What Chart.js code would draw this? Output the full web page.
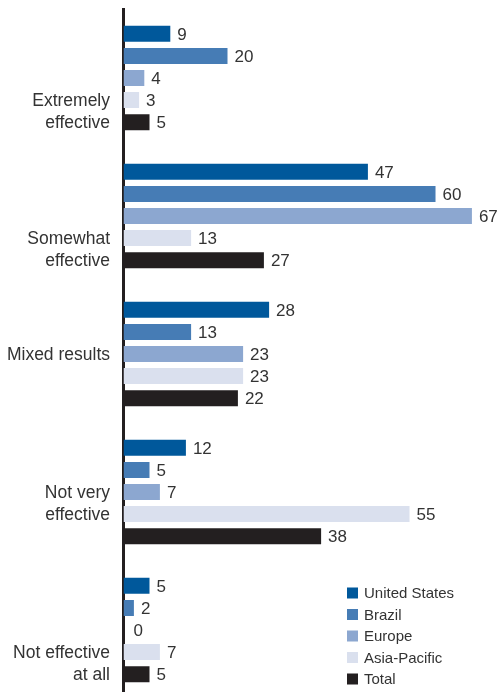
<!DOCTYPE html>
<html>
<head>
<meta charset="utf-8">
<script src="https://cdn.jsdelivr.net/npm/chart.js@4"></script>
<style>
  html, body { margin: 0; padding: 0; background: #fff; overflow: hidden; }
  #wrap { position: relative; width: 500px; height: 692px; overflow: hidden; }
  canvas { display: block; }
</style>
</head>
<body>
<div id="wrap"><canvas id="chart" width="500" height="699"></canvas></div>
<script>
// Survey answers, one group of bars per answer
const categories = [
  ["Extremely", "effective"],
  ["Somewhat", "effective"],
  ["Mixed results"],
  ["Not very", "effective"],
  ["Not effective", "at all"]
];
const seriesNames = ["United States", "Brazil", "Europe", "Asia-Pacific", "Total"];
const unitedStates = [9, 47, 28, 12, 5];
const brazil       = [20, 60, 13, 5, 2];
const europe       = [4, 67, 23, 7, 0];
const asiaPacific  = [3, 13, 23, 55, 7];
const total        = [5, 27, 22, 38, 5];

const seriesColors = ["#00589b", "#467cb5", "#8ca7d0", "#dae0ee", "#231f20"];
const TEXT = "#333333";
const FONT = '"Liberation Sans", Arial, sans-serif';

// where each answer label sits, in bar slots from the group centre
const labelShift = [1.5, 1.5, 0, 0.5, 1.5];

const annotate = {
  id: "annotate",
  afterDraw(chart) {
    const ctx = chart.ctx;
    const yScale = chart.scales.y;
    ctx.save();
    ctx.fillStyle = TEXT;
    ctx.textBaseline = "middle";

    // value next to each bar
    ctx.font = "17px " + FONT;
    ctx.textAlign = "left";
    chart.data.datasets.forEach((ds, i) => {
      chart.getDatasetMeta(i).data.forEach((bar, j) => {
        const end = Math.max(bar.x, yScale.right + 3);
        ctx.fillText(String(ds.data[j]), end + 7, bar.y + 1);
      });
    });

    // answer labels left of the axis
    const step = yScale.getPixelForValue(1) - yScale.getPixelForValue(0);
    const slot = step * 0.8 / seriesNames.length;
    ctx.font = "17.5px " + FONT;
    ctx.textAlign = "right";
    categories.forEach((lines, j) => {
      const cy = yScale.getPixelForValue(j) + labelShift[j] * slot;
      lines.forEach((t, k) => {
        ctx.fillText(t, 110, cy + (k - (lines.length - 1) / 2) * slot + 1);
      });
    });

    // legend, lower right
    ctx.font = "15px " + FONT;
    ctx.textAlign = "left";
    seriesNames.forEach((name, i) => {
      const cy = 593 + i * 21.5;
      ctx.fillStyle = seriesColors[i];
      ctx.fillRect(347, cy - 5.5, 11, 11);
      ctx.fillStyle = TEXT;
      ctx.fillText(name, 364, cy + 1);
    });
    ctx.restore();
  }
};

const seriesValues = [unitedStates, brazil, europe, asiaPacific, total];

new Chart(document.getElementById("chart"), {
  type: "bar",
  data: {
    labels: categories,
    datasets: seriesNames.map((name, i) => ({
      label: name,
      data: seriesValues[i],
      backgroundColor: seriesColors[i],
      borderWidth: 0,
      categoryPercentage: 0.8,
      barPercentage: 0.727
    }))
  },
  options: {
    indexAxis: "y",
    responsive: false,
    animation: false,
    devicePixelRatio: 1,
    layout: { padding: { top: 9, right: 0, bottom: 0, left: 0 } },
    plugins: { legend: { display: false }, tooltip: { enabled: false } },
    scales: {
      x: {
        min: 0,
        max: 72.4,
        display: false
      },
      y: {
        z: 1,
        grid: { display: false },
        ticks: { display: false },
        border: { display: true, color: "#231f20", width: 3 },
        afterFit(scale) { scale.width = 123.5; }
      }
    }
  },
  plugins: [annotate]
});
</script>
</body>
</html>
